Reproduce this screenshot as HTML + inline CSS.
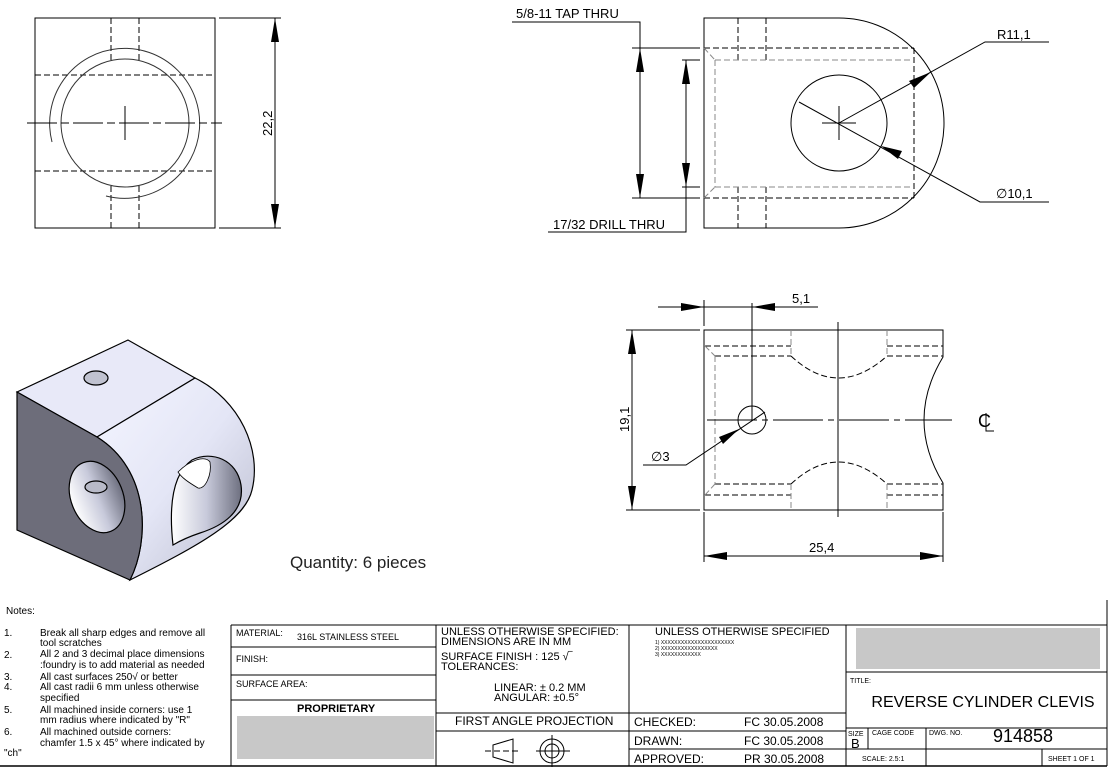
<!DOCTYPE html>
<html><head><meta charset="utf-8"><style>
html,body{margin:0;padding:0;background:#fff;}
svg{display:block;font-family:"Liberation Sans",sans-serif;}
</style></head><body>
<svg width="1110" height="769" viewBox="0 0 1110 769" xmlns="http://www.w3.org/2000/svg">
<defs>
<linearGradient id="cur" x1="0" y1="0" x2="1" y2="1">
<stop offset="0" stop-color="#f4f5ff"/><stop offset="0.5" stop-color="#e4e6f6"/><stop offset="1" stop-color="#b8bacc"/></linearGradient>
<linearGradient id="hole" x1="0" y1="0" x2="1" y2="0">
<stop offset="0" stop-color="#ffffff"/><stop offset="0.5" stop-color="#c8cadb"/><stop offset="1" stop-color="#6e7080"/></linearGradient>
</defs>
<g fill="none" stroke="#000" stroke-width="1">
<!-- View 1: left square -->
<rect x="35" y="18" width="180" height="210"/>
<g stroke-dasharray="6,3">
<line x1="111" y1="18" x2="111" y2="61"/><line x1="139" y1="18" x2="139" y2="61"/>
<line x1="111" y1="186" x2="111" y2="228"/><line x1="139" y1="186" x2="139" y2="228"/>
<line x1="35" y1="75" x2="215" y2="75"/><line x1="35" y1="171" x2="215" y2="171"/>
</g>
<circle cx="125" cy="123" r="64" stroke="#333"/>
<path d="M106,196 A75,75 0 1 0 52,142" stroke="#333"/>
<line x1="27" y1="123" x2="222" y2="123" stroke-dasharray="30,4,8,4"/>
<line x1="125" y1="106" x2="125" y2="140"/>
<line x1="219" y1="18" x2="281" y2="18"/><line x1="219" y1="228" x2="281" y2="228"/>
<line x1="275" y1="18" x2="275" y2="228"/>
</g>
<polygon points="275,18 271,42 279,42"/><polygon points="275,228 271,204 279,204"/>
<text x="0" y="0" font-size="13" transform="translate(272,136) rotate(-90)">22,2</text>

<!-- View 2: top right -->
<g fill="none" stroke="#000" stroke-width="1">
<path d="M704,18 L839,18 A105,105 0 0 1 839,228 L704,228 Z"/>
<g stroke-dasharray="6,3">
<line x1="738" y1="18" x2="738" y2="60"/><line x1="766" y1="18" x2="766" y2="60"/>
<line x1="738" y1="187" x2="738" y2="228"/><line x1="766" y1="187" x2="766" y2="228"/>
<line x1="704" y1="48" x2="914" y2="48"/><line x1="704" y1="198" x2="914" y2="198"/>
<line x1="914" y1="48" x2="914" y2="198"/>
</g>
<g stroke-dasharray="6,3" stroke="#888">
<line x1="715" y1="60" x2="914" y2="60"/><line x1="715" y1="187" x2="914" y2="187"/>
<line x1="715" y1="60" x2="715" y2="187"/>
<line x1="704" y1="48" x2="715" y2="60"/><line x1="704" y1="198" x2="715" y2="187"/>
</g>
<circle cx="839" cy="123" r="48"/>
<line x1="822" y1="123" x2="856" y2="123"/><line x1="839" y1="106" x2="839" y2="140"/>
<polyline points="839,123 985,42 1049,42"/>
<polyline points="799,102 980,202 1049,202"/>
<line x1="632" y1="48" x2="700" y2="48"/><line x1="632" y1="198" x2="700" y2="198"/>
<line x1="682" y1="60" x2="700" y2="60"/><line x1="682" y1="187" x2="700" y2="187"/>
<polyline points="512,22 640,22 640,198"/>
<polyline points="548,232 686,232 686,60"/>
</g>
<polygon points="640,48 636,72 644,72"/><polygon points="640,198 636,174 644,174"/>
<polygon points="686,60 682,84 690,84"/><polygon points="686,187 682,163 690,163"/>
<polygon points="931,72 909,81 914,88"/>
<polygon points="881,146 902,151 898,159"/>
<text x="516" y="18" font-size="13">5/8-11 TAP THRU</text>
<text x="553" y="229" font-size="13">17/32 DRILL THRU</text>
<text x="997" y="39" font-size="13">R11,1</text>
<text x="996" y="198" font-size="13">∅10,1</text>

<!-- View 3: front bottom right -->
<g fill="none" stroke="#000" stroke-width="1">
<path d="M704,330 L943,330 L943,357 Q905,420 943,483 L943,510 L704,510 Z"/>
<g stroke-dasharray="6,3">
<line x1="705" y1="346" x2="791" y2="346"/><line x1="887" y1="346" x2="943" y2="346"/>
<line x1="715" y1="356" x2="791" y2="356"/><line x1="887" y1="356" x2="943" y2="356"/>
<line x1="715" y1="484" x2="791" y2="484"/><line x1="887" y1="484" x2="943" y2="484"/>
<line x1="705" y1="495" x2="791" y2="495"/><line x1="887" y1="495" x2="943" y2="495"/>
<path d="M791,356 Q838,400 887,356"/><path d="M791,484 Q838,440 887,484"/>
</g>
<g stroke-dasharray="6,3" stroke="#888">
<line x1="791" y1="330" x2="791" y2="356"/><line x1="887" y1="330" x2="887" y2="356"/>
<line x1="791" y1="484" x2="791" y2="510"/><line x1="887" y1="484" x2="887" y2="510"/>
<line x1="715" y1="356" x2="715" y2="484"/>
<line x1="705" y1="346" x2="715" y2="356"/><line x1="705" y1="495" x2="715" y2="484"/>
</g>
<line x1="707" y1="420" x2="952" y2="420" stroke-dasharray="50,5,6,5"/>
<line x1="838" y1="322" x2="838" y2="517"/>
<circle cx="752" cy="420" r="14"/>
<line x1="752" y1="303" x2="752" y2="420"/>
<line x1="704" y1="300" x2="704" y2="326"/>
<line x1="658" y1="307" x2="818" y2="307"/>
<line x1="626" y1="330" x2="700" y2="330"/><line x1="626" y1="510" x2="700" y2="510"/>
<line x1="632" y1="330" x2="632" y2="510"/>
<polyline points="765,412 686,465 643,465"/>
<line x1="704" y1="512" x2="704" y2="562"/><line x1="943" y1="512" x2="943" y2="562"/>
<line x1="704" y1="556" x2="943" y2="556"/>
</g>
<polygon points="704,307 681,303 681,311"/><polygon points="752,307 775,303 775,311"/>
<polygon points="632,330 628,354 636,354"/><polygon points="632,510 628,486 636,486"/>
<polygon points="739,429 719,437 723,444"/>
<polygon points="704,556 727,552 727,560"/><polygon points="943,556 920,552 920,560"/>
<text x="792" y="303" font-size="13">5,1</text>
<text x="0" y="0" font-size="13" transform="translate(629,432) rotate(-90)">19,1</text>
<text x="651" y="461" font-size="13">∅3</text>
<text x="809" y="552" font-size="13">25,4</text>
<text x="978" y="427" font-size="18">C</text>
<path d="M986,413 L986,431 L994,431" fill="none" stroke="#000" stroke-width="1"/>

<!-- Isometric -->
<g stroke="#000" stroke-width="1.2">
<path d="M17,392 L128,340 L195,378 L97,437 Z" fill="#e8e9f8"/>
<path d="M97,437 L195,378 C240,400 262,450 252,490 C245,520 200,545 130,580 C150,540 150,470 97,437 Z" fill="url(#cur)"/>
<path d="M17,392 L97,437 C150,470 150,540 130,580 L17,530 Z" fill="#6d6d7a"/>
<ellipse cx="96" cy="378" rx="12" ry="7" fill="#c0c2d0"/>
<ellipse cx="97" cy="497" rx="26" ry="37" transform="rotate(-22 97 497)" fill="url(#hole)"/>
<ellipse cx="96" cy="487" rx="11" ry="6" fill="#b8bac8"/>
<path d="M173,545 C168,500 175,472 192,460 C212,450 237,460 241,485 C245,512 222,526 200,533 C188,537 178,542 173,545 Z" fill="url(#hole)"/>
<path d="M178,472 C190,460 205,455 210,462 C212,475 205,490 198,488 C188,482 182,478 178,472 Z" fill="#fff" stroke-width="0.8"/>
</g>
<text x="290" y="568" font-size="17" fill="#222">Quantity: 6 pieces</text>

<!-- Notes -->
<g font-size="10" fill="#000">
<text x="6" y="614">Notes:</text>
<text x="4" y="636">1.</text><text x="40" y="636">Break all sharp edges and remove all</text>
<text x="40" y="646">tool scratches</text>
<text x="4" y="658">2.</text><text x="40" y="657">All 2 and 3 decimal place dimensions</text>
<text x="40" y="668">:foundry is to add material as needed</text>
<text x="4" y="680">3.</text><text x="40" y="680">All cast surfaces 250√  or better</text>
<text x="4" y="690">4.</text><text x="40" y="690">All cast radii 6 mm unless otherwise</text>
<text x="40" y="701">specified</text>
<text x="4" y="713">5.</text><text x="40" y="713">All machined inside corners: use 1</text>
<text x="40" y="723">mm radius where indicated by "R"</text>
<text x="4" y="735">6.</text><text x="40" y="735">All machined outside corners:</text>
<text x="40" y="746">chamfer 1.5 x 45° where  indicated by</text>
<text x="4" y="756">"ch"</text>
</g>

<!-- Title block -->
<g fill="none" stroke="#000" stroke-width="1">
<line x1="0" y1="766" x2="1107" y2="766" stroke-width="1.5"/>
<line x1="231" y1="625" x2="1107" y2="625"/>
<line x1="1107" y1="600" x2="1107" y2="766"/>
<line x1="231" y1="625" x2="231" y2="766"/>
<line x1="436" y1="625" x2="436" y2="766"/>
<line x1="629" y1="625" x2="629" y2="766"/>
<line x1="846" y1="625" x2="846" y2="766"/>
<line x1="231" y1="647" x2="436" y2="647"/>
<line x1="231" y1="675" x2="436" y2="675"/>
<line x1="231" y1="700" x2="436" y2="700"/>
<line x1="436" y1="713" x2="846" y2="713"/>
<line x1="436" y1="731" x2="846" y2="731"/>
<line x1="629" y1="749" x2="846" y2="749"/>
<line x1="846" y1="672" x2="1107" y2="672"/>
<line x1="846" y1="728" x2="1107" y2="728"/>
<line x1="846" y1="749" x2="1107" y2="749"/>
<line x1="868" y1="728" x2="868" y2="749"/>
<line x1="926" y1="728" x2="926" y2="766"/>
<line x1="1042" y1="749" x2="1042" y2="766"/>
<path d="M493,745 L513,739 L513,763 L493,757 Z"/>
<line x1="485" y1="751" x2="521" y2="751" stroke-dasharray="6,3"/>
<circle cx="552" cy="751" r="12"/><circle cx="552" cy="751" r="7"/>
<line x1="536" y1="751" x2="570" y2="751"/><line x1="552" y1="735" x2="552" y2="767"/>
</g>
<rect x="237" y="716" width="197" height="43" fill="#c8c8c8"/>
<rect x="856" y="628" width="244" height="41" fill="#c8c8c8"/>
<g font-size="9" fill="#000">
<text x="236" y="636">MATERIAL:</text>
<text x="297" y="640">316L STAINLESS STEEL</text>
<text x="236" y="662">FINISH:</text>
<text x="236" y="687">SURFACE AREA:</text>
<text x="850" y="683" font-size="7">TITLE:</text>
<text x="848" y="736" font-size="7">SIZE</text>
<text x="872" y="735" font-size="7">CAGE CODE</text>
<text x="929" y="735" font-size="7">DWG.  NO.</text>
<text x="862" y="761" font-size="7">SCALE:  2.5:1</text>
<text x="1048" y="761" font-size="7">SHEET 1 OF 1</text>
<text x="655" y="644" font-size="5">1) XXXXXXXXXXXXXXXXXXXXXX</text>
<text x="655" y="650" font-size="5">2) XXXXXXXXXXXXXXXXX</text>
<text x="655" y="656" font-size="5">3) XXXXXXXXXXXX</text>
</g>
<text x="297" y="712" font-size="11" font-weight="bold">PROPRIETARY</text>
<g font-size="11" fill="#000">
<text x="441" y="635">UNLESS OTHERWISE SPECIFIED:</text>
<text x="441" y="645">DIMENSIONS ARE IN MM</text>
<text x="441" y="660">SURFACE FINISH : 125 √‾</text>
<text x="441" y="670">TOLERANCES:</text>
<text x="494" y="691">LINEAR: ± 0.2 MM</text>
<text x="494" y="701">ANGULAR:  ±0.5°</text>
<text x="455" y="725" font-size="12">FIRST ANGLE PROJECTION</text>
<text x="655" y="635">UNLESS OTHERWISE SPECIFIED</text>
<text x="634" y="726" font-size="12">CHECKED:</text><text x="744" y="726" font-size="12">FC 30.05.2008</text>
<text x="634" y="745" font-size="12">DRAWN:</text><text x="744" y="745" font-size="12">FC 30.05.2008</text>
<text x="634" y="763" font-size="12">APPROVED:</text><text x="744" y="763" font-size="12">PR 30.05.2008</text>
<text x="983" y="707" font-size="16" text-anchor="middle">REVERSE CYLINDER CLEVIS</text>
<text x="851" y="748" font-size="13">B</text>
<text x="993" y="742" font-size="18">914858</text>
</g>
</svg>
</body></html>
